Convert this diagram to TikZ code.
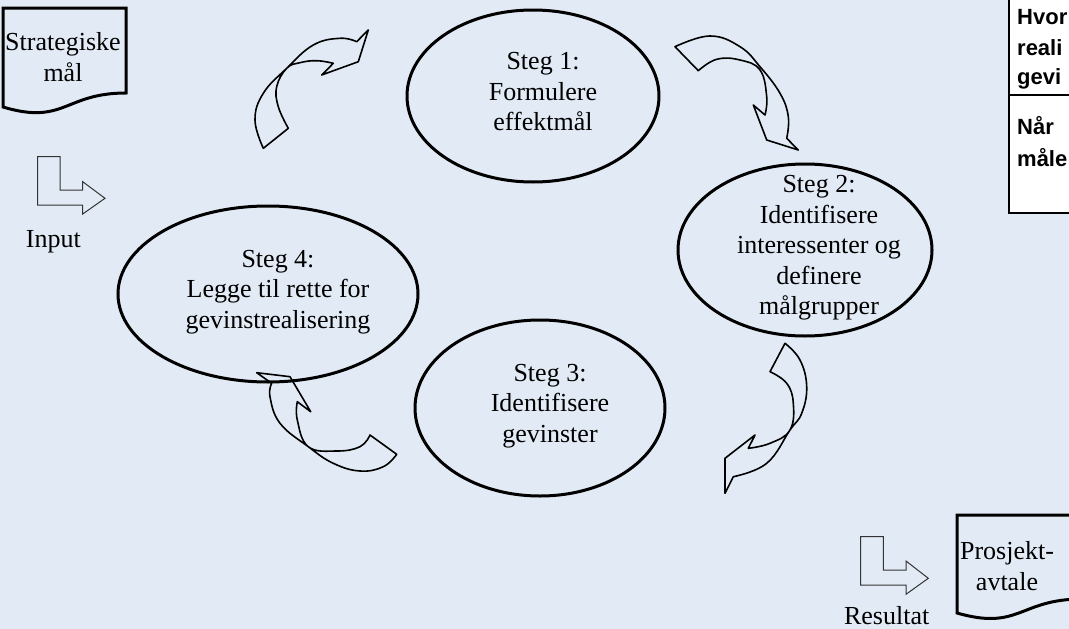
\documentclass[tikz,border=0pt]{standalone}
\usepackage{fontspec}
\setmainfont{Liberation Serif}
\newfontfamily\boxfont{Liberation Sans}
\usetikzlibrary{shapes.geometric}
\definecolor{bgblue}{RGB}{226,235,245}
\tikzset{
  x=1pt, y=-1pt,
  stepnode/.style={ellipse, draw, line width=3pt, inner sep=0pt},
  label/.style={align=center, inner sep=0pt, font=\fontsize{26}{30.5}\selectfont},
  docshape/.style={draw, line width=3pt, line join=miter},
  bendarrow/.style={draw=black!80, line width=1pt, line join=miter},
  curvearrow/.style={draw, line width=1.6pt, line join=round},
  qtext/.style={anchor=west, inner sep=0pt, font=\boxfont\bfseries\fontsize{22}{26}\selectfont},
}
\begin{document}
\begin{tikzpicture}
\useasboundingbox (0,0) rectangle (1069,629);
\fill[bgblue] (0,0) rectangle (1069,629);
\clip (0,0) rectangle (1069,629);

% the four steps of the cycle: outline, then its text set slightly right of centre
\node[stepnode, minimum width=252, minimum height=172] (s1) at (533,96) {};
\node[label] (t1) at ([xshift=10pt,yshift=4pt]s1.center) {Steg 1:\\Formulere\\effektmål};
\node[stepnode, minimum width=254, minimum height=172] (s2) at (805,250) {};
\node[label] (t2) at ([xshift=14pt,yshift=2pt]s2.center) {Steg 2:\\Identifisere\\interessenter og\\definere\\målgrupper};
\node[stepnode, minimum width=250, minimum height=176] (s3) at (540,408) {};
\node[label] (t3) at ([xshift=10pt,yshift=2pt]s3.center) {Steg 3:\\Identifisere\\gevinster};
\node[stepnode, minimum width=300, minimum height=176] (s4) at (268,294) {};
\node[label] (t4) at ([xshift=10pt,yshift=2pt]s4.center) {Steg 4:\\Legge til rette for\\gevinstrealisering};

% curved block arrows between the steps
\draw[curvearrow] plot[smooth, tension=0.7] coordinates {(263.3,148.3) (255,120) (263.3,93.3) (286.7,68.3) (313.3,45) (340,38.3) (356.7,41.7)}
  -- (368.3,30) -- (358.3,61.7) -- (321.7,75) -- (333.3,63.3)
  -- plot[smooth, tension=0.7] coordinates {(333.3,63.3) (316.7,60.7) (300,62.7) (286.7,68.3) (276.7,86.7) (278.3,106.7) (288.3,128.3)} -- cycle;
\draw[curvearrow] plot[smooth, tension=0.7] coordinates {(675,46.7) (710,36) (740,46.7) (760,66.7) (780,93.3) (788.3,116.7) (786.7,138.3)}
  -- (798.3,150) -- (766.7,140) -- (753.3,105) -- (765,115)
  -- plot[smooth, tension=0.7] coordinates {(765,115) (766.7,96.7) (760,70) (740,60) (716.7,59.3) (698.3,70.7)} -- cycle;
\draw[curvearrow] plot[smooth, tension=0.7] coordinates {(785,343.3) (800,360) (806.7,386.7) (801.7,413.3) (790,430) (766.7,463.3) (733.3,476.7)}
  -- (725,493.3) -- (725,458.3) -- (755,435) -- (748.3,448.3)
  -- plot[smooth, tension=0.7] coordinates {(748.3,448.3) (770,443.3) (790,430) (793.3,403.3) (786.7,383.3) (770,371.7)} -- cycle;
\draw[curvearrow] plot[smooth, tension=0.7] coordinates {(396.7,454.3) (383.3,466.7) (360,471) (333.3,463.3) (308.3,446.7) (280,423.3) (270,396.7) (271.7,383.3)}
  -- (256.7,372.7) -- (290,376.7) -- (310.7,411.7) -- (297.3,401.7)
  -- plot[smooth, tension=0.7] coordinates {(297.3,401.7) (297.3,420) (308.3,446.7) (336.7,451) (360,446.7) (370,435)} -- cycle;

% input document
\draw[docshape] (3,107) -- (3,8) -- (126,8) -- (126,93) .. controls (64.5,93) and (64.5,125.4) .. cycle;
\node[label] (strat) at (63,57) {Strategiske\\mål};
\draw[bendarrow] (37.7,156.7) -- (60,156.7) -- (60,190) -- (82.7,190) -- (82.7,181.7) -- (105,198.3) -- (82.7,214) -- (82.7,205) -- (37.7,205) -- cycle;
\node[label] (input) at (53.3,242) {Input};

% output document
\draw[docshape] (957,613) -- (957,515) -- (1082,515) -- (1082,599) .. controls (1019.5,599) and (1019.5,631) .. cycle;
\node[label] (avtale) at (1007,566) {Prosjekt-\\avtale};
\draw[bendarrow] (860.7,536.7) -- (883.3,536.7) -- (883.3,570) -- (906,570) -- (906,561) -- (928.3,578.3) -- (906,594.3) -- (906,585) -- (860.7,585) -- cycle;
\node[label] (result) at (886.7,616) {Resultat};

% question panel at the right edge
\draw[fill=white, line width=2pt] (1009,-5) rectangle (1090,213);
\draw[line width=2pt] (1009,95) -- (1090,95);
\node[qtext] (q1) at (1017,17) {Hvor};
\node[qtext] (q2) at (1017,48) {reali};
\node[qtext] (q3) at (1017,79) {gevi};
\node[qtext] (q4) at (1017,126) {Når};
\node[qtext] (q5) at (1017,158) {måle};
\end{tikzpicture}
\end{document}
